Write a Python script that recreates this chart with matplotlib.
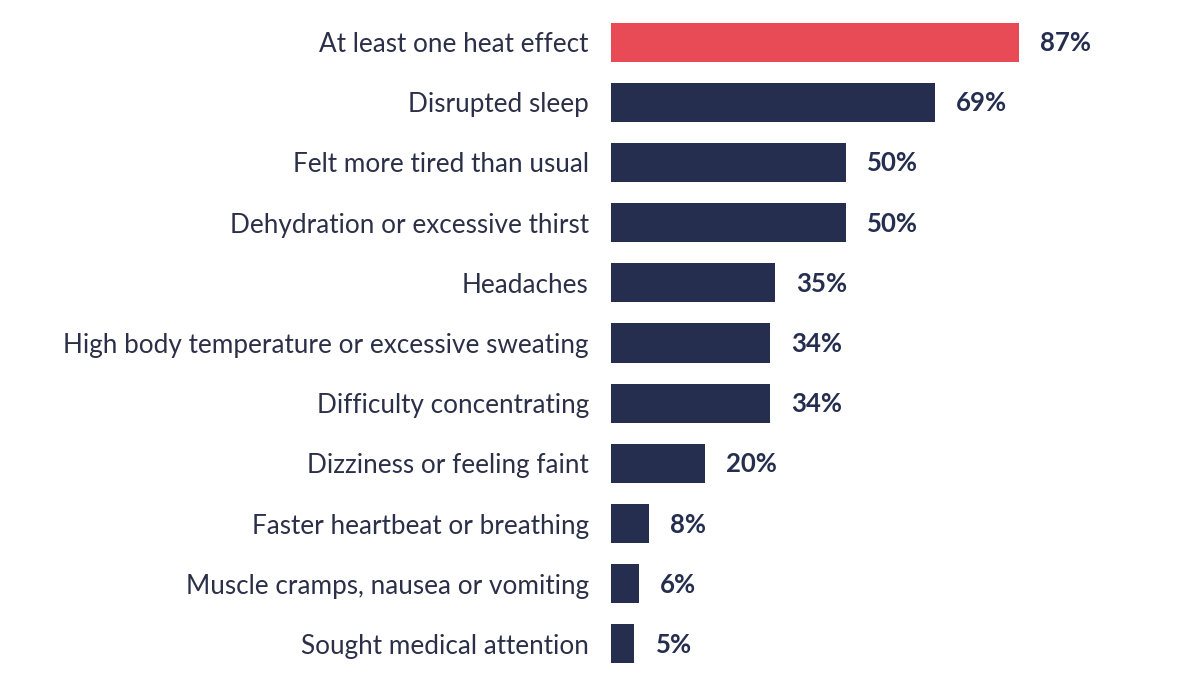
import matplotlib
matplotlib.use("Agg")
import matplotlib.pyplot as plt

categories = [
    "At least one heat effect",
    "Disrupted sleep",
    "Felt more tired than usual",
    "Dehydration or excessive thirst",
    "Headaches",
    "High body temperature or excessive sweating",
    "Difficulty concentrating",
    "Dizziness or feeling faint",
    "Faster heartbeat or breathing",
    "Muscle cramps, nausea or vomiting",
    "Sought medical attention",
]
values = [87, 69, 50, 50, 35, 34, 34, 20, 8, 6, 5]
value_labels = ["87%", "69%", "50%", "50%", "35%", "34%", "34%", "20%", "8%", "6%", "5%"]

RED = "#E94B56"
NAVY = "#262E50"
TEXT = "#2B3048"

plt.rcParams['font.family'] = ['Lato', 'DejaVu Sans']

fig = plt.figure(figsize=(12, 6.75), dpi=100)
W, H = 1200, 675
left_px, right_px = 611, 611 + 4.69 * 100
top_px, bot_px = 12, 674
ax = fig.add_axes([left_px / W, 1 - bot_px / H, (right_px - left_px) / W, (bot_px - top_px) / H])

n = len(categories)
ypos = list(range(n))
colors = [RED] + [NAVY] * (n - 1)
ax.barh(ypos, values, height=0.65, color=colors, left=0)
ax.set_xlim(0, 100)
ax.set_ylim(n - 0.5, -0.5)

for y, v, lab in zip(ypos, values, value_labels):
    ax.annotate(lab, xy=(v, y), xytext=(21, -1), textcoords="offset pixels",
                va="center", ha="left", fontsize=18.5, fontweight="bold", color=NAVY)

ax.set_yticks(ypos)
ax.set_yticklabels(categories, fontsize=18.8, color=TEXT)
ax.tick_params(axis="y", length=0, pad=16)
ax.set_xticks([])
for s in ax.spines.values():
    s.set_visible(False)

fig.savefig("out.png", dpi=100, facecolor="white")
